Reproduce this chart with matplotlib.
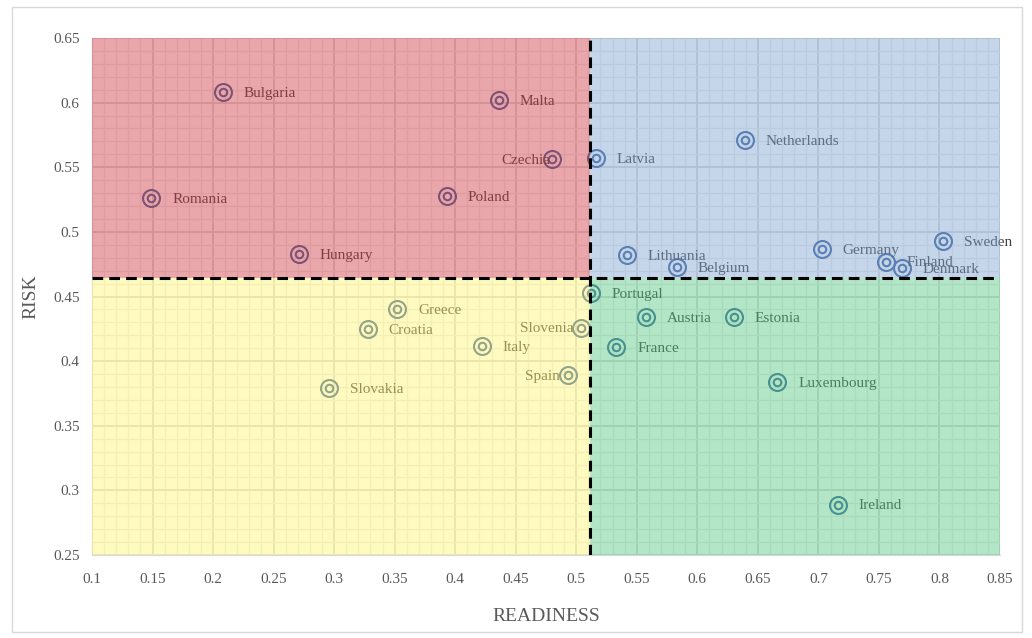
#!/usr/bin/env python3

import matplotlib.pyplot as plt
from matplotlib.patches import Rectangle

countries = ["Bulgaria", "Malta", "Czechia", "Latvia", "Netherlands", "Romania",
             "Poland", "Hungary", "Lithuania", "Belgium", "Germany", "Sweden",
             "Finland", "Denmark", "Portugal", "Greece", "Croatia", "Slovenia",
             "Austria", "Estonia", "Italy", "France", "Spain", "Slovakia",
             "Luxembourg", "Ireland"]
readiness = [0.208, 0.436, 0.480, 0.516, 0.639, 0.149,
             0.393, 0.271, 0.542, 0.583, 0.703, 0.803,
             0.756, 0.769, 0.512, 0.352, 0.328, 0.504,
             0.558, 0.630, 0.422, 0.533, 0.493, 0.296,
             0.666, 0.716]
risk = [0.608, 0.602, 0.556, 0.557, 0.571, 0.526,
        0.528, 0.483, 0.482, 0.473, 0.487, 0.493,
        0.477, 0.472, 0.453, 0.440, 0.425, 0.426,
        0.434, 0.434, 0.412, 0.411, 0.389, 0.379,
        0.384, 0.289]
# labels placed on the left of the marker (offset in px)
left_labels = {"Czechia": -2, "Slovenia": -8, "Spain": -8}

readiness_split = 0.511
risk_split = 0.464
x_ticks = [0.1, 0.15, 0.2, 0.25, 0.3, 0.35, 0.4, 0.45, 0.5, 0.55, 0.6, 0.65, 0.7, 0.75, 0.8, 0.85]
y_ticks = [0.25, 0.3, 0.35, 0.4, 0.45, 0.5, 0.55, 0.6, 0.65]

plt.rcParams["font.family"] = ["Liberation Serif", "DejaVu Serif"]

fig = plt.figure(figsize=(10.32, 6.38), dpi=100)
ax = fig.add_axes([92 / 1032, 1 - 555 / 638, 908 / 1032, 517 / 638])

# light frame round the chart area
fig.patches.append(Rectangle((12 / 1032, 1 - 632 / 638), 1010 / 1032, 625 / 638,
                             transform=fig.transFigure, fill=False,
                             edgecolor="#d9d9d9", linewidth=1))

ax.set_xlim(0.1, 0.85)
ax.set_ylim(0.25, 0.65)
ax.set_xticks(x_ticks)
ax.set_xticklabels([f"{t:g}" for t in x_ticks])
ax.set_yticks(y_ticks)
ax.set_yticklabels([f"{t:g}" for t in y_ticks])
ax.set_xticks([0.1 + 0.01 * i for i in range(76)], minor=True)
ax.set_yticks([0.25 + 0.01 * i for i in range(41)], minor=True)
ax.tick_params(which="both", length=0, labelsize=11, labelcolor="#595959")
ax.tick_params(axis="x", pad=13)
ax.tick_params(axis="y", pad=9)
ax.set_axisbelow(True)
ax.grid(which="major", color="#d8d8d8", linewidth=1.3)
ax.grid(which="minor", color="#ececec", linewidth=0.9)
for side in ["top", "right"]:
    ax.spines[side].set_visible(False)
for side in ["left", "bottom"]:
    ax.spines[side].set_color("#d9d9d9")

# points and labels, tinted afterwards by the quadrant overlays
ax.plot(readiness, risk, linestyle="none", marker="o", markersize=12.2,
        mfc="none", mec="#3c649c", mew=1.5, zorder=3)
ax.plot(readiness, risk, linestyle="none", marker="o", markersize=5.4,
        mfc="none", mec="#3c649c", mew=1.5, zorder=3)
for name, x, y in zip(countries, readiness, risk):
    if name in left_labels:
        ax.annotate(name, (x, y), xytext=(left_labels[name] * 0.72, -1),
                    textcoords="offset points", ha="right", va="center",
                    fontsize=11, color="#404040", zorder=3)
    else:
        ax.annotate(name, (x, y), xytext=(15, -1), textcoords="offset points",
                    ha="left", va="center", fontsize=11, color="#404040", zorder=3)

# quadrant overlays
alpha = 0.45
ax.add_patch(Rectangle((0.1, risk_split), readiness_split - 0.1, 0.65 - risk_split,
                       facecolor="#cf3c45", alpha=alpha, linewidth=0, zorder=4))
ax.add_patch(Rectangle((readiness_split, risk_split), 0.85 - readiness_split, 0.65 - risk_split,
                       facecolor="#7fa2d1", alpha=alpha, linewidth=0, zorder=4))
ax.add_patch(Rectangle((0.1, 0.25), readiness_split - 0.1, risk_split - 0.25,
                       facecolor="#fff473", alpha=alpha, linewidth=0, zorder=4))
ax.add_patch(Rectangle((readiness_split, 0.25), 0.85 - readiness_split, risk_split - 0.25,
                       facecolor="#55c881", alpha=alpha, linewidth=0, zorder=4))

ax.axvline(readiness_split, color="black", linewidth=2.2, linestyle=(0, (3.5, 2)), zorder=5)
ax.axhline(risk_split, color="black", linewidth=2.2, linestyle=(0, (3.5, 2)), zorder=5)

ax.set_xlabel("READINESS", fontsize=14, color="#595959", labelpad=16)
ax.set_ylabel("RISK", fontsize=14, color="#595959", labelpad=10)

fig.savefig("out.png", dpi=100)
